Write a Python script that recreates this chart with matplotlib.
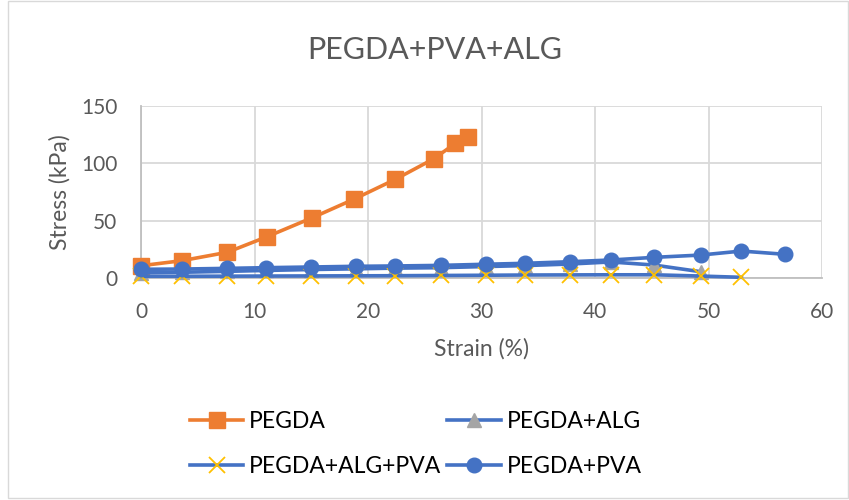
import matplotlib.pyplot as plt
from matplotlib.patches import Rectangle

# strain (%) and stress (kPa) per hydrogel
strain_pegda = [0, 3.6, 7.6, 11.1, 15.1, 18.8, 22.4, 25.8, 27.7, 28.8]
stress_pegda = [10.7, 15.1, 22.4, 36.0, 52.6, 68.9, 86.0, 104.0, 117.4, 123.2]

strain_alg = [0, 3.6, 7.6, 11.0, 15.0, 18.9, 22.4, 26.4, 30.4, 33.8, 37.8, 41.4, 45.2, 49.3]
stress_alg = [4.5, 5.0, 5.8, 6.6, 7.4, 8.0, 8.6, 9.0, 10.0, 10.8, 12.2, 14.0, 11.3, 5.5]

strain_alg_pva = [0, 3.6, 7.6, 11.0, 15.0, 18.9, 22.4, 26.4, 30.4, 33.8, 37.8, 41.4, 45.2, 49.3, 52.9]
stress_alg_pva = [1.5, 1.5, 1.6, 1.7, 1.8, 1.9, 2.0, 2.2, 2.4, 2.6, 2.7, 2.8, 2.8, 1.7, 0.6]

strain_pva = [0, 3.6, 7.6, 11.0, 15.0, 18.9, 22.4, 26.4, 30.4, 33.8, 37.8, 41.4, 45.2, 49.3, 52.9, 56.7]
stress_pva = [7.6, 7.8, 8.4, 9.0, 9.6, 10.2, 10.5, 11.0, 12.0, 12.8, 14.2, 15.7, 18.0, 20.0, 23.5, 20.7]

ORANGE = "#ED7D31"
BLUE = "#4472C4"
GRAY = "#A5A5A5"
YELLOW = "#FFC000"
TXT = "#595959"
GRID = "#D9D9D9"

plt.rcParams["font.family"] = ["Lato", "DejaVu Sans"]

fig = plt.figure(figsize=(8.49, 5.0), dpi=100)
fig.patches.append(Rectangle((8 / 849, 0.004), 840 / 849, 0.994, transform=fig.transFigure,
                             fill=False, edgecolor=GRID, linewidth=1))

ax = fig.add_axes([141 / 849, (500 - 278) / 500, (822 - 141) / 849, (278 - 106) / 500])

lw = 2.6
h_pegda, = ax.plot(strain_pegda, stress_pegda, color=ORANGE, lw=lw, marker="s",
                   markersize=11.5, label="PEGDA", zorder=3, clip_on=False)
h_alg, = ax.plot(strain_alg, stress_alg, color=BLUE, lw=lw, marker="^", markersize=10,
                 markerfacecolor=GRAY, markeredgecolor=GRAY, label="PEGDA+ALG", zorder=4, clip_on=False)
h_alg_pva, = ax.plot(strain_alg_pva, stress_alg_pva, color=BLUE, lw=lw, marker="x", markersize=11,
                     markeredgecolor=YELLOW, markeredgewidth=1.3, label="PEGDA+ALG+PVA", zorder=5,
                     clip_on=False)
h_pva, = ax.plot(strain_pva, stress_pva, color=BLUE, lw=lw, marker="o", markersize=10.5,
                 label="PEGDA+PVA", zorder=6, clip_on=False)

ax.set_xlim(0, 60)
ax.set_ylim(0, 150)
ax.set_xticks(range(0, 61, 10))
ax.set_yticks([0, 50, 100, 150])
ax.grid(True, color=GRID, linewidth=1.3)
ax.set_axisbelow(True)
for side in ["top", "right"]:
    ax.spines[side].set_visible(False)
ax.spines["left"].set_color("#BFBFBF")
ax.spines["bottom"].set_color("#BFBFBF")
ax.spines["left"].set_linewidth(1.3)
ax.spines["bottom"].set_linewidth(1.3)
ax.tick_params(length=0, labelsize=15, labelcolor=TXT)
ax.tick_params(axis="x", pad=17)
ax.tick_params(axis="y", pad=17)

ax.set_xlabel("Strain (%)", fontsize=16.5, color=TXT, labelpad=12)
ax.set_ylabel("Stress (kPa)", fontsize=16.5, color=TXT)
ax.yaxis.set_label_coords(-0.104, 0.5)
fig.text(435 / 849, 1 - 50 / 500, "PEGDA+PVA+ALG", fontsize=22, color=TXT, ha="center", va="center")

# row-wise order for a two-column legend
handles = [h_pegda, h_alg_pva, h_alg, h_pva]
fig.legend(handles=handles, labels=[h.get_label() for h in handles], ncol=2,
           loc="center left", bbox_to_anchor=(169 / 849, 1 - 444 / 500), frameon=False,
           fontsize=16.5, handlelength=2.35, columnspacing=0.25, labelspacing=1.05, handletextpad=0.25,
           labelcolor="black")

fig.savefig("out.png", dpi=100)
